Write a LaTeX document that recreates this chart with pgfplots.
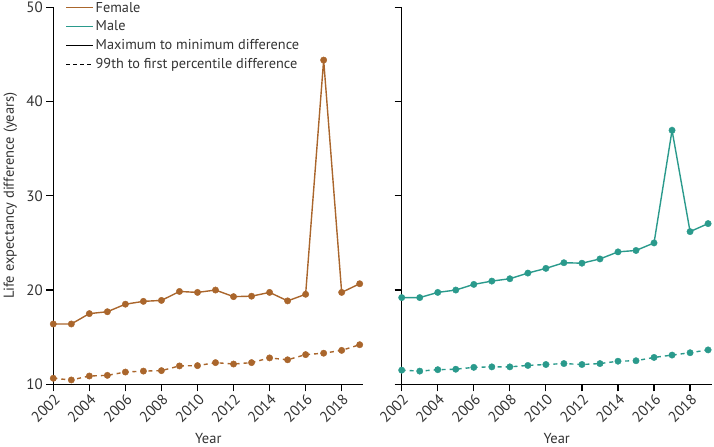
\documentclass[border=0pt]{standalone}
\usepackage{fontspec}
\setmainfont{PT Sans}
\usepackage{pgfplots}
\usepackage{pgfplotstable}
\pgfplotsset{compat=1.18}
\definecolor{fem}{RGB}{170,102,44}
\definecolor{mal}{RGB}{42,154,140}
\definecolor{txt}{RGB}{51,51,51}

\pgfplotstableread{
year fmax fpct mmax mpct
2002 16.40 10.64 19.20 11.50
2003 16.40 10.46 19.20 11.40
2004 17.50 10.88 19.75 11.55
2005 17.70 10.95 20.00 11.60
2006 18.50 11.30 20.60 11.80
2007 18.80 11.40 20.95 11.85
2008 18.90 11.45 21.20 11.85
2009 19.85 11.95 21.80 12.00
2010 19.75 11.98 22.30 12.10
2011 20.00 12.30 22.90 12.20
2012 19.30 12.15 22.85 12.10
2013 19.35 12.30 23.30 12.20
2014 19.75 12.80 24.05 12.45
2015 18.85 12.60 24.20 12.50
2016 19.55 13.15 25.00 12.85
2017 44.40 13.30 36.95 13.10
2018 19.75 13.60 26.20 13.35
2019 20.67 14.20 27.05 13.65
}\data

\pgfplotsset{
  base/.style={
    scale only axis, width=310bp, height=377bp,
    xmin=2002, xmax=2019.2, ymin=10, ymax=50,
    axis x line*=bottom, axis y line*=left,
    axis line style={-, line width=1.2bp, black},
    every tick/.style={black, line width=1.2bp},
    xtick={2002,2004,...,2018}, ytick={10,20,...,50},
    tick align=outside, major tick length=7bp,
    /pgf/number format/assume math mode=true,
    /pgf/number format/1000 sep={},
    tick label style={font=\fontsize{15bp}{17bp}\selectfont, text=txt},
    x tick label style={rotate=45, anchor=north east, inner sep=1bp},
    label style={font=\fontsize{14.5bp}{17bp}\selectfont, text=txt},
    xlabel={Year},
    xlabel style={at={(axis description cs:0.5,-0.1448)}, anchor=center},
    clip=false,
  },
  fline/.style={color=#1, line width=1.4bp, mark=*, mark size=3.2bp,
    mark options={solid, fill=#1, draw=#1, line width=0.4bp}},
  dline/.style={color=#1, line width=1.4bp, dash pattern=on 4bp off 4bp, mark=*, mark size=3.2bp,
    mark options={solid, fill=#1, draw=#1, line width=0.4bp}},
}

\begin{document}
\begin{tikzpicture}
\begin{axis}[base, at={(0,0)},
  ylabel={Life expectancy difference (years)},
  ylabel style={at={(axis description cs:-0.139,0.5)}, anchor=center},
  legend style={draw=none, fill=none, at={(axis description cs:0,1)}, anchor=north west,
    xshift=12bp, yshift=7.5bp, font=\fontsize{14.3bp}{16bp}\selectfont, text=txt,
    row sep=3.3bp, inner sep=0pt},
  legend cell align=left,
  legend image code/.code={\draw[#1] (0bp,0bp) -- (27bp,0bp);},
]
\addlegendimage{color=fem, line width=1.2bp}
\addlegendentry{Female}
\addlegendimage{color=mal, line width=1.2bp}
\addlegendentry{Male}
\addlegendimage{color=black, line width=1.2bp}
\addlegendentry{Maximum to minimum difference}
\addlegendimage{color=black, line width=1.2bp, dash pattern=on 4bp off 3bp}
\addlegendentry{99th to first percentile difference}
\addplot[fline=fem, forget plot] table[x=year, y=fmax] {\data};
\addplot[dline=fem, forget plot] table[x=year, y=fpct] {\data};
\end{axis}
\begin{axis}[base, at={(348.4bp,0)}, yticklabels={}]
\addplot[fline=mal] table[x=year, y=mmax] {\data};
\addplot[dline=mal] table[x=year, y=mpct] {\data};
\end{axis}
\pgfresetboundingbox
\path[use as bounding box] (-53.3bp,-62.7bp) rectangle (660.7bp,384.3bp);
\end{tikzpicture}
\end{document}
